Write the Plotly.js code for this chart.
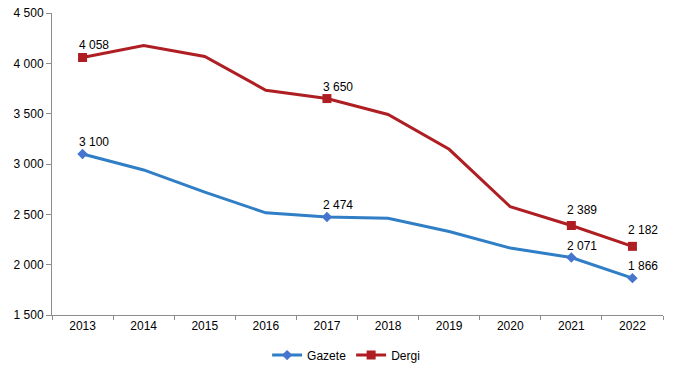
<!DOCTYPE html>
<html>
<head>
<meta charset="utf-8">
<script src="https://cdn.plot.ly/plotly-3.0.1.min.js"></script>
<style>html,body{margin:0;padding:0;background:#fff}#chart{width:676px;height:368px}</style>
</head>
<body>
<div id="chart"></div>
<script>
var years = ['2013','2014','2015','2016','2017','2018','2019','2020','2021','2022'];
var gazete = [3100, 2941, 2720, 2515, 2474, 2460, 2330, 2165, 2071, 1866];
var dergi = [4058, 4178, 4068, 3733, 3650, 3492, 3146, 2575, 2389, 2182];
var labelledYears = ['2013','2017','2021','2022'];
var yTicks = [1500, 2000, 2500, 3000, 3500, 4000, 4500];

function fmt(v){ return String(v).replace(/\B(?=(\d{3})+(?!\d))/g, ' '); }

var blue = '#2F7EC6', blueMarker = '#4675CF', red = '#AE1E23';
function pick(arr){ return labelledYears.map(function(yr){ return arr[years.indexOf(yr)]; }); }

var traces = [
  {x: years, y: gazete, name: 'Gazete', type: 'scatter', mode: 'lines', showlegend: false,
   line: {color: blue, width: 3}},
  {x: years, y: dergi, name: 'Dergi', type: 'scatter', mode: 'lines', showlegend: false,
   line: {color: red, width: 3}},
  {x: labelledYears, y: pick(gazete), type: 'scatter', mode: 'markers', showlegend: false,
   marker: {symbol: 'diamond', size: 8, color: blueMarker}},
  {x: labelledYears, y: pick(dergi), type: 'scatter', mode: 'markers', showlegend: false,
   marker: {symbol: 'square', size: 9, color: red}},
  {x: [null], y: [null], name: 'Gazete', type: 'scatter', mode: 'lines+markers',
   line: {color: blue, width: 3}, marker: {symbol: 'diamond', size: 8, color: blueMarker}},
  {x: [null], y: [null], name: 'Dergi', type: 'scatter', mode: 'lines+markers',
   line: {color: red, width: 3}, marker: {symbol: 'square', size: 9, color: red}}
];

var annotations = [];
labelledYears.forEach(function(yr){
  var i = years.indexOf(yr);
  annotations.push({x: i, y: gazete[i], text: fmt(gazete[i]), showarrow: false,
    xanchor: 'center', yanchor: 'middle', xshift: 11, yshift: 12,
    font: {family: 'Liberation Sans, Arial', size: 12, color: '#000'}});
  var big = (yr === '2021' || yr === '2022');
  annotations.push({x: i, y: dergi[i], text: fmt(dergi[i]), showarrow: false,
    xanchor: 'center', yanchor: 'middle', xshift: 11, yshift: big ? 16 : 12,
    font: {family: 'Liberation Sans, Arial', size: 12, color: '#000'}});
});

var layout = {
  width: 676, height: 368,
  margin: {l: 52, r: 13, t: 13, b: 53},
  paper_bgcolor: '#fff', plot_bgcolor: '#fff',
  font: {family: 'Liberation Sans, Arial', size: 11, color: '#000'},
  showlegend: true, hovermode: false,
  legend: {orientation: 'h', x: 0.512, xanchor: 'center', xref: 'container',
    y: 0.035, yanchor: 'middle', yref: 'container',
    font: {size: 12}, traceorder: 'normal'},
  xaxis: {type: 'category', range: [-0.5, years.length - 0.5], autorange: false,
    showgrid: false, zeroline: false, showline: true,
    linecolor: '#8C8C8C', linewidth: 1, ticks: 'outside', tickson: 'boundaries',
    ticklen: 4, tickcolor: '#8C8C8C', tickfont: {size: 12}, tickangle: 0, fixedrange: true},
  yaxis: {range: [1500, 4500], autorange: false, tickvals: yTicks, ticktext: yTicks.map(fmt),
    showgrid: false, zeroline: false, showline: true, linecolor: '#8C8C8C', linewidth: 1,
    ticks: 'outside', ticklen: 5, tickcolor: '#8C8C8C', tickfont: {size: 12}, fixedrange: true},
  annotations: annotations
};

Plotly.newPlot('chart', traces, layout, {displayModeBar: false, staticPlot: true});
</script>
</body>
</html>
